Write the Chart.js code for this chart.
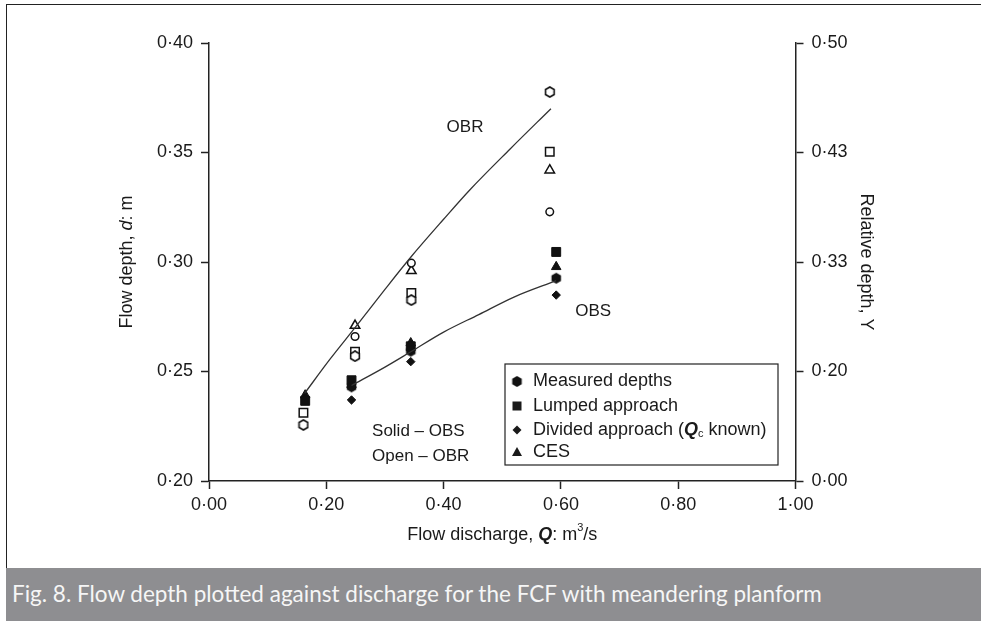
<!DOCTYPE html>
<html>
<head>
<meta charset="utf-8">
<script src="https://cdn.jsdelivr.net/npm/chart.js@4.4.1/dist/chart.umd.min.js"></script>
<style>
  html, body { margin: 0; padding: 0; background: #fff; }
  #wrap { position: absolute; left: 0; top: 0; width: 981px; height: 621px; overflow: hidden; background: #fff; }
  #frame { position: absolute; left: 6px; top: 4px; width: 975px; height: 564px; border-left: 1.5px solid #222; border-top: 1.5px solid #222; box-sizing: border-box; }
  #cv { position: absolute; left: 0; top: 0; }
  #caption { position: absolute; left: 6px; top: 568px; width: 975px; height: 53px; background: #8e8e91; color: #f6f6f6;
    font-family: Lato, "Open Sans", sans-serif; font-size: 22.5px; line-height: 52px; padding-left: 6px; box-sizing: border-box; white-space: nowrap; }
</style>
</head>
<body>
<div id="wrap">
  <div id="frame"></div>
  <canvas id="cv" width="981" height="568"></canvas>
  <div id="caption">Fig. 8. Flow depth plotted against discharge for the FCF with meandering planform</div>
</div>
<script>
// ---------- DATA ----------
const xTicks = [0, 0.2, 0.4, 0.6, 0.8, 1.0];
const yTicks = [0.20, 0.25, 0.30, 0.35, 0.40];
const rightTickLabels = ['0·00', '0·20', '0·33', '0·43', '0·50'];

// OBS (solid symbols)
const obsMeasuredQ = [0.243, 0.344, 0.592];
const obsMeasuredD = [0.243, 0.2593, 0.2926];
const obsLumpedQ = [0.164, 0.243, 0.344, 0.592];
const obsLumpedD = [0.2366, 0.246, 0.2615, 0.3046];
const obsDividedQ = [0.243, 0.344, 0.592];
const obsDividedD = [0.237, 0.2545, 0.2849];
const obsCesQ = [0.164, 0.243, 0.344, 0.592];
const obsCesD = [0.2392, 0.244, 0.263, 0.2978];

// OBR (open symbols)
const obrMeasuredQ = [0.161, 0.249, 0.345, 0.581];
const obrMeasuredD = [0.2256, 0.257, 0.2826, 0.3776];
const obrLumpedQ = [0.161, 0.249, 0.345, 0.581];
const obrLumpedD = [0.2312, 0.259, 0.2859, 0.3503];
const obrDividedQ = [0.249, 0.345, 0.581];
const obrDividedD = [0.266, 0.2995, 0.3229];
const obrCesQ = [0.249, 0.345, 0.581];
const obrCesD = [0.271, 0.296, 0.3419];

// fitted curves
const obrCurveQ = [0.163, 0.206, 0.249, 0.300, 0.345, 0.400, 0.445, 0.513, 0.583];
const obrCurveD = [0.240, 0.2555, 0.270, 0.2875, 0.3025, 0.3195, 0.333, 0.3515, 0.370];
const obsCurveQ = [0.243, 0.300, 0.344, 0.400, 0.460, 0.520, 0.592];
const obsCurveD = [0.2436, 0.252, 0.259, 0.268, 0.276, 0.284, 0.2915];

// ---------- helpers ----------
const FONT = '"Liberation Sans", Arial, Helvetica, sans-serif';
const pts = (xs, ys) => xs.map((x, i) => ({ x: x, y: ys[i] }));
const fmt = v => v.toFixed(2).replace('.', '·');

function makeHex(size, filled) {
  const c = document.createElement('canvas');
  c.width = size + 2; c.height = size + 2;
  const g = c.getContext('2d');
  const cx = c.width / 2, cy = c.height / 2, r = size / 2;
  g.beginPath();
  for (let i = 0; i < 6; i++) {
    const a = Math.PI / 6 + i * Math.PI / 3;
    const px = cx + r * Math.cos(a), py = cy + r * Math.sin(a);
    if (i === 0) g.moveTo(px, py); else g.lineTo(px, py);
  }
  g.closePath();
  if (filled) { g.fillStyle = '#111'; g.fill(); }
  else { g.fillStyle = '#fff'; g.fill(); g.lineWidth = 1.6; g.strokeStyle = '#111'; g.stroke(); }
  return c;
}
const hexFilled = makeHex(11, true);
const hexOpen = makeHex(10, false);

function solid(label, data, style, radius) {
  return { label, data, pointStyle: style, pointRadius: radius, pointHoverRadius: radius,
    backgroundColor: '#111', borderColor: '#111', borderWidth: 1, showLine: false };
}
function open(label, data, style, radius) {
  return { label, data, pointStyle: style, pointRadius: radius, pointHoverRadius: radius,
    backgroundColor: '#fff', borderColor: '#111', borderWidth: 1.5, showLine: false };
}
function curve(label, data) {
  return { label, data, showLine: true, pointRadius: 0, borderColor: '#333', borderWidth: 1.3,
    cubicInterpolationMode: 'monotone', fill: false, backgroundColor: 'transparent' };
}

function drawRich(ctx, parts, x, y, align) {
  let total = 0;
  parts.forEach(p => { ctx.font = p.f; p.w = ctx.measureText(p.t).width; total += p.w; });
  let cx = align === 'center' ? x - total / 2 : x;
  ctx.textAlign = 'left';
  ctx.textBaseline = 'middle';
  parts.forEach(p => { ctx.font = p.f; ctx.fillText(p.t, cx, y + (p.dy || 0)); cx += p.w; });
}

const reg = '18px ' + FONT, ital = 'italic 18px ' + FONT, bi = 'bold italic 18px ' + FONT, small = '11px ' + FONT;
const ann = '17px ' + FONT;

const decor = {
  id: 'decor',
  afterDraw(chart) {
    const ctx = chart.ctx, xs = chart.scales.x, ys = chart.scales.y;
    ctx.save();
    ctx.fillStyle = '#1a1a1a';
    // axis titles
    drawRich(ctx, [{ t: 'Flow discharge, ', f: reg }, { t: 'Q', f: bi }, { t: ': m', f: reg }, { t: '3', f: small, dy: -7 }, { t: '/s', f: reg }],
      (xs.left + xs.right) / 2, 535, 'center');
    ctx.save(); ctx.translate(127, (ys.top + ys.bottom) / 2); ctx.rotate(-Math.PI / 2);
    drawRich(ctx, [{ t: 'Flow depth, ', f: reg }, { t: 'd', f: ital }, { t: ': m', f: reg }], 0, 0, 'center');
    ctx.restore();
    ctx.save(); ctx.translate(866, (ys.top + ys.bottom) / 2); ctx.rotate(Math.PI / 2);
    drawRich(ctx, [{ t: 'Relative depth, Y', f: reg }], 0, 0, 'center');
    ctx.restore();
    // annotations
    drawRich(ctx, [{ t: 'OBR', f: ann }], xs.getPixelForValue(0.4365), ys.getPixelForValue(0.3615), 'center');
    drawRich(ctx, [{ t: 'OBS', f: ann }], xs.getPixelForValue(0.655), ys.getPixelForValue(0.2776), 'center');
    drawRich(ctx, [{ t: 'Solid – OBS', f: ann }], xs.getPixelForValue(0.278), ys.getPixelForValue(0.2228), 'left');
    drawRich(ctx, [{ t: 'Open – OBR', f: ann }], xs.getPixelForValue(0.278), ys.getPixelForValue(0.2114), 'left');
    // legend box
    const lx = 505, ly = 364, lw = 273, lh = 101;
    ctx.fillStyle = '#fff'; ctx.fillRect(lx, ly, lw, lh);
    ctx.lineWidth = 1.2; ctx.strokeStyle = '#222'; ctx.strokeRect(lx, ly, lw, lh);
    ctx.fillStyle = '#1a1a1a';
    const rows = [381.5, 406, 430, 452];
    const mx = 517, tx = 533;
    ctx.drawImage(hexFilled, mx - hexFilled.width / 2, rows[0] - hexFilled.height / 2);
    ctx.fillRect(mx - 4.5, rows[1] - 4.5, 9, 9);
    ctx.beginPath(); ctx.moveTo(mx, rows[2] - 4.5); ctx.lineTo(mx + 4.5, rows[2]); ctx.lineTo(mx, rows[2] + 4.5); ctx.lineTo(mx - 4.5, rows[2]); ctx.closePath(); ctx.fill();
    ctx.beginPath(); ctx.moveTo(mx, rows[3] - 5); ctx.lineTo(mx + 5, rows[3] + 4); ctx.lineTo(mx - 5, rows[3] + 4); ctx.closePath(); ctx.fill();
    drawRich(ctx, [{ t: 'Measured depths', f: reg }], tx, rows[0], 'left');
    drawRich(ctx, [{ t: 'Lumped approach', f: reg }], tx, rows[1], 'left');
    drawRich(ctx, [{ t: 'Divided approach (', f: reg }, { t: 'Q', f: bi }, { t: 'c', f: small, dy: 4 }, { t: ' known)', f: reg }], tx, rows[2], 'left');
    drawRich(ctx, [{ t: 'CES', f: reg }], tx, rows[3], 'left');
    ctx.restore();
  }
};

const axisCommon = {
  grid: { display: true, drawOnChartArea: false, drawTicks: true, tickLength: 8, tickWidth: 1.5, color: '#222' },
  border: { display: true, color: '#222', width: 1.5 },
};

new Chart(document.getElementById('cv'), {
  type: 'scatter',
  data: {
    datasets: [
      curve('OBR fit', pts(obrCurveQ, obrCurveD)),
      curve('OBS fit', pts(obsCurveQ, obsCurveD)),
      open('OBR measured', pts(obrMeasuredQ, obrMeasuredD), hexOpen, 5),
      open('OBR lumped', pts(obrLumpedQ, obrLumpedD), 'rect', 6),
      open('OBR divided', pts(obrDividedQ, obrDividedD), 'circle', 3.8),
      open('OBR CES', pts(obrCesQ, obrCesD), 'triangle', 5.5),
      solid('Measured depths', pts(obsMeasuredQ, obsMeasuredD), hexFilled, 5.5),
      solid('Lumped approach', pts(obsLumpedQ, obsLumpedD), 'rect', 6.3),
      solid('Divided approach', pts(obsDividedQ, obsDividedD), 'rectRot', 4.2),
      solid('CES', pts(obsCesQ, obsCesD), 'triangle', 5.5),
    ]
  },
  options: {
    responsive: false,
    animation: false,
    devicePixelRatio: 1,
    layout: { padding: { top: 43, left: 0, right: 0, bottom: 0 } },
    plugins: { legend: { display: false }, tooltip: { enabled: false } },
    scales: {
      x: Object.assign({}, axisCommon, {
        type: 'linear', min: 0, max: 1,
        afterBuildTicks: s => { s.ticks = xTicks.map(v => ({ value: v })); },
        afterFit: s => { s.height = 87; },
        ticks: { color: '#1a1a1a', font: { family: FONT, size: 18 }, padding: 5, callback: v => fmt(v), maxRotation: 0 }
      }),
      y: Object.assign({}, axisCommon, {
        type: 'linear', position: 'left', min: 0.2, max: 0.4,
        afterBuildTicks: s => { s.ticks = yTicks.map(v => ({ value: v })); },
        afterFit: s => { s.width = 209; },
        ticks: { color: '#1a1a1a', font: { family: FONT, size: 18 }, padding: 8, callback: v => fmt(v) }
      }),
      y2: Object.assign({}, axisCommon, {
        type: 'linear', position: 'right', min: 0.2, max: 0.4,
        afterBuildTicks: s => { s.ticks = yTicks.map(v => ({ value: v })); },
        afterFit: s => { s.width = 185.5; },
        ticks: { color: '#1a1a1a', font: { family: FONT, size: 18 }, padding: 8,
          callback: (v) => { const i = yTicks.findIndex(t => Math.abs(t - v) < 1e-6); return i >= 0 ? rightTickLabels[i] : ''; } }
      })
    }
  },
  plugins: [decor]
});
</script>
</body>
</html>
